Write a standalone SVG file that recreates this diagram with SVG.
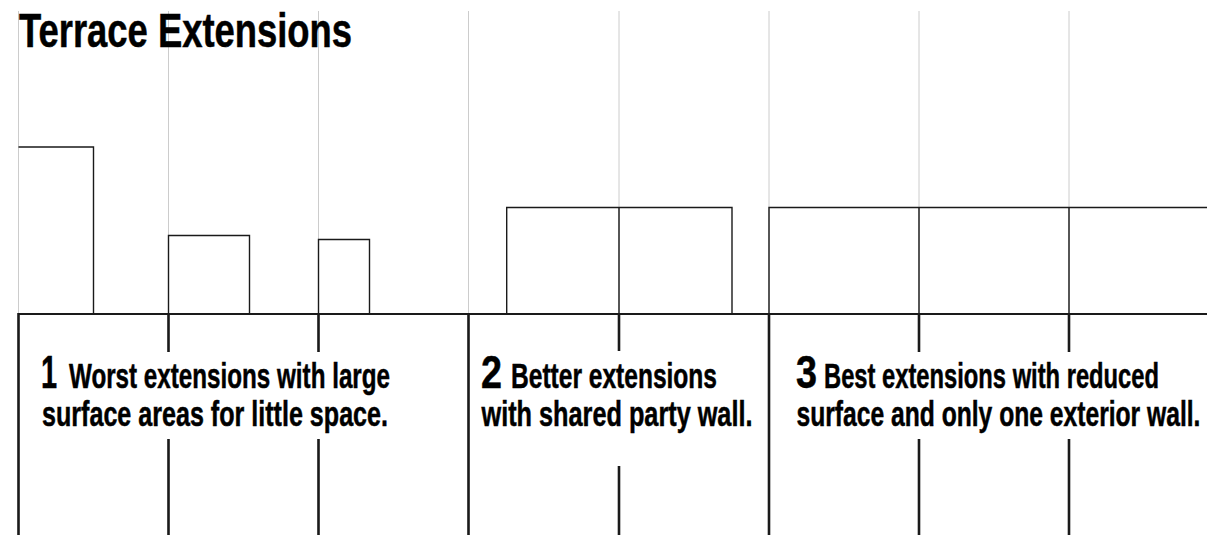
<svg xmlns="http://www.w3.org/2000/svg" width="1207" height="535" viewBox="0 0 1207 535">
<style>
.grid{stroke:#cccccc;stroke-width:1;fill:none}
.wall{stroke:#1a1a1a;stroke-width:1.4;fill:none}
.base{stroke:#1a1a1a;stroke-width:2.2;fill:none}
.post{stroke:#1a1a1a;stroke-width:2.6;fill:none}
.t{font-family:"Liberation Sans",Arial,sans-serif;font-weight:bold;fill:#000;stroke:#000;stroke-width:0.5}
.title{font-size:48px}
.num{font-size:46px}
.body{font-size:35px}
</style>
<rect width="1207" height="535" fill="#ffffff"/>
<g id="grid">
<path class="grid" d="M18.5 11V314M168.5 11V314M318.5 11V314M468.5 11V314M619 11V314M769 11V314M919 11V314M1069 11V314"/>
</g>
<text id="title" class="t title" transform="matrix(0.75 0 0 1 19 46.5)" x="0" y="0" textLength="444" lengthAdjust="spacingAndGlyphs">Terrace Extensions</text>
<g id="section1">
<path class="wall" d="M18.5 147H93.5V314"/>
<path class="wall" d="M168.5 314V235.5H249.5V314"/>
<path class="wall" d="M318.5 314V239.5H369.5V314"/>
<text class="t num" transform="matrix(0.7 0 0 1 41 388)" x="0" y="0" textLength="23" lengthAdjust="spacingAndGlyphs">1</text>
<text class="t body" transform="matrix(0.7 0 0 1 69 388)" x="0" y="0" textLength="458.6" lengthAdjust="spacingAndGlyphs">Worst extensions with large</text>
<text class="t body" transform="matrix(0.7 0 0 1 42 425.5)" x="0" y="0" textLength="494.3" lengthAdjust="spacingAndGlyphs">surface areas for little space.</text>
</g>
<g id="section2">
<path class="wall" d="M506.7 314V207.5H732V314M619 207.5V314"/>
<text class="t num" transform="matrix(0.7 0 0 1 481 388)" x="0" y="0" textLength="30" lengthAdjust="spacingAndGlyphs">2</text>
<text class="t body" transform="matrix(0.7 0 0 1 511 388)" x="0" y="0" textLength="294.3" lengthAdjust="spacingAndGlyphs">Better extensions</text>
<text class="t body" transform="matrix(0.7 0 0 1 481.5 425.5)" x="0" y="0" textLength="387.1" lengthAdjust="spacingAndGlyphs">with shared party wall.</text>
</g>
<g id="section3">
<path class="wall" d="M769 314V207.5H1207M919 207.5V314M1069 207.5V314"/>
<text class="t num" transform="matrix(0.7 0 0 1 796 388)" x="0" y="0" textLength="30" lengthAdjust="spacingAndGlyphs">3</text>
<text class="t body" transform="matrix(0.7 0 0 1 824 388)" x="0" y="0" textLength="478.6" lengthAdjust="spacingAndGlyphs">Best extensions with reduced</text>
<text class="t body" transform="matrix(0.7 0 0 1 796.5 425.5)" x="0" y="0" textLength="577.1" lengthAdjust="spacingAndGlyphs">surface and only one exterior wall.</text>
</g>
<g id="connectors">
<path class="base" d="M18 314H1207"/>
<path class="post" d="M18.5 313V535M468.5 313V535M769 313V535"/>
<path class="post" d="M168.5 314V352M168.5 439V535M318.5 314V352M318.5 439V535M919 314V352M919 439V535M1069 314V352M1069 439V535M619 314V351M619 466V535"/>
</g>
</svg>
